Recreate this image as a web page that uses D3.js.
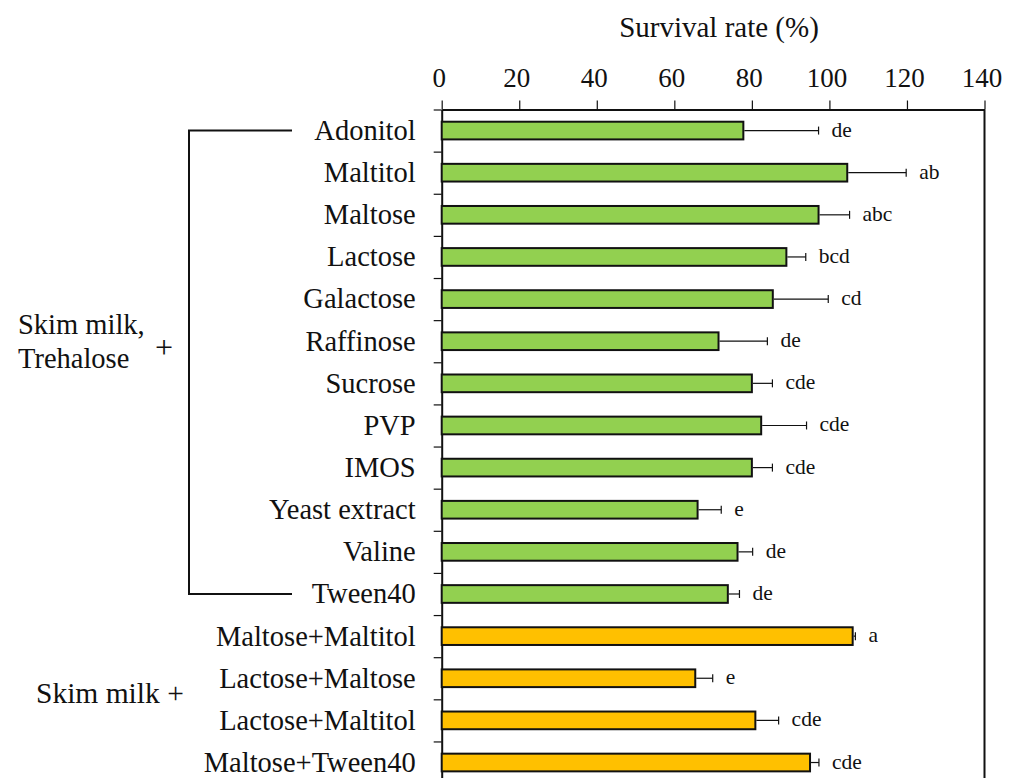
<!DOCTYPE html>
<html>
<head>
<meta charset="utf-8">
<script src="https://cdn.jsdelivr.net/npm/d3@7"></script>
<style>
  html, body { margin: 0; padding: 0; background: #fff; }
  svg { display: block; }
  text { font-family: "Liberation Serif", "Times New Roman", serif; fill: #111; }
</style>
</head>
<body>
<svg id="chart" width="1014" height="778"></svg>
<script>
// Survival rate of each protectant formulation
const categories = [
  "Adonitol", "Maltitol", "Maltose", "Lactose", "Galactose", "Raffinose",
  "Sucrose", "PVP", "IMOS", "Yeast extract", "Valine", "Tween40",
  "Maltose+Maltitol", "Lactose+Maltose", "Lactose+Maltitol", "Maltose+Tween40"
];
const survival = [77.8, 104.6, 97.2, 88.9, 85.4, 71.4, 80.0, 82.4, 80.0, 66.0, 76.3, 73.8, 106.0, 65.4, 80.9, 95.0];
const stdDev   = [19.4, 15.2, 8.0, 5.0, 14.3, 12.6, 5.3, 11.7, 5.3, 6.1, 3.9, 3.0, 0.7, 4.5, 6.0, 2.3];
const letters  = ["de", "ab", "abc", "bcd", "cd", "de", "cde", "cde", "cde", "e", "de", "de", "a", "e", "cde", "cde"];
const groupOf  = ["ST", "ST", "ST", "ST", "ST", "ST", "ST", "ST", "ST", "ST", "ST", "ST", "S", "S", "S", "S"];
const xTicks   = [0, 20, 40, 60, 80, 100, 120, 140];

const groupColor = { ST: "#92D050", S: "#FFC000" };

(function draw() {
  const svg = d3.select("#chart");
  const plotLeft = 441.7, plotRight = 984.5, plotTop = 109.5, band = 42.13;
  const plotBottom = plotTop + band * categories.length;

  const x = d3.scaleLinear().domain([0, 140]).range([plotLeft, plotRight]);
  const y = d3.scaleBand().domain(categories).range([plotTop, plotBottom]).paddingInner(0.58).paddingOuter(0.29);
  const yEdge = d3.scaleLinear().domain([0, categories.length]).range([plotTop, plotBottom]);

  // Top value axis
  const xAxis = svg.append("g")
    .attr("transform", `translate(0,${plotTop})`)
    .call(d3.axisTop(x).tickValues(xTicks).tickSize(9).tickSizeOuter(0).tickPadding(14));
  xAxis.select(".domain").attr("stroke", "#111").attr("stroke-width", 2);
  xAxis.selectAll(".tick line").attr("stroke", "#111").attr("stroke-width", 1.2);
  xAxis.selectAll(".tick text")
    .attr("font-size", 27).attr("dx", -3)
    .style("font-family", "'Liberation Serif', serif").attr("fill", "#111");

  // Right and bottom frame border
  svg.append("line")
    .attr("x1", plotRight).attr("x2", plotRight).attr("y1", plotTop).attr("y2", plotBottom)
    .attr("stroke", "#111").attr("stroke-width", 2);
  svg.append("line")
    .attr("x1", plotLeft).attr("x2", plotRight).attr("y1", plotBottom).attr("y2", plotBottom)
    .attr("stroke", "#111").attr("stroke-width", 2);

  // Left axis: ticks on band boundaries
  const edgeAxis = svg.append("g")
    .attr("transform", `translate(${plotLeft},0)`)
    .call(d3.axisLeft(yEdge).tickValues(d3.range(0, categories.length + 1)).tickSize(8).tickSizeOuter(0).tickFormat(""));
  edgeAxis.select(".domain").attr("stroke", "#111").attr("stroke-width", 2);
  edgeAxis.selectAll(".tick line").attr("stroke", "#111").attr("stroke-width", 1.2);

  // Category labels
  const catAxis = svg.append("g")
    .attr("transform", `translate(${plotLeft},0)`)
    .call(d3.axisLeft(y).tickSize(0).tickPadding(26));
  catAxis.select(".domain").remove();
  catAxis.selectAll(".tick text")
    .attr("font-size", 28.5).attr("dy", "0.33em")
    .style("font-family", "'Liberation Serif', serif").attr("fill", "#111");

  // Bars
  const rows = categories.map((c, i) => ({ c, v: survival[i], e: stdDev[i], l: letters[i], g: groupOf[i] }));
  svg.append("g").selectAll("rect").data(rows).join("rect")
    .attr("x", x(0))
    .attr("y", d => y(d.c))
    .attr("width", d => x(d.v) - x(0))
    .attr("height", y.bandwidth())
    .attr("fill", d => groupColor[d.g])
    .attr("stroke", "#111")
    .attr("stroke-width", 2);

  // Error bars (upper side)
  const yMid = c => y(c) + y.bandwidth() / 2;
  const err = svg.append("g").attr("stroke", "#111").attr("stroke-width", 1.2);
  err.selectAll("line.whisker").data(rows).join("line").attr("class", "whisker")
    .attr("x1", d => x(d.v) + 1).attr("x2", d => x(d.v + d.e))
    .attr("y1", d => yMid(d.c)).attr("y2", d => yMid(d.c));
  err.selectAll("line.cap").data(rows).join("line").attr("class", "cap")
    .attr("x1", d => x(d.v + d.e)).attr("x2", d => x(d.v + d.e))
    .attr("y1", d => yMid(d.c) - 4).attr("y2", d => yMid(d.c) + 4);

  // Significance letters
  svg.append("g").selectAll("text").data(rows).join("text")
    .attr("x", d => x(d.v + d.e) + 13)
    .attr("y", d => yMid(d.c) + 6)
    .attr("font-size", 21.5)
    .text(d => d.l);

  // Title
  svg.append("text")
    .attr("x", 719).attr("y", 37)
    .attr("text-anchor", "middle").attr("font-size", 29)
    .text("Survival rate (%)");

  // Group bracket for the skim milk + trehalose formulations
  const bx = 189, bEnd = 292;
  svg.append("path")
    .attr("d", `M${bEnd},${yMid(categories[0])} H${bx} V${yMid(categories[11])} H${bEnd}`)
    .attr("fill", "none").attr("stroke", "#111").attr("stroke-width", 2);

  const g1 = svg.append("text").attr("font-size", 28.5);
  g1.append("tspan").attr("x", 18).attr("y", 334).text("Skim milk,");
  g1.append("tspan").attr("x", 18).attr("y", 368).text("Trehalose");
  svg.append("text").attr("x", 164).attr("y", 358).attr("text-anchor", "middle")
    .attr("font-size", 32).text("+");

  svg.append("text").attr("x", 36).attr("y", 703).attr("font-size", 29.5).text("Skim milk +");
})();
</script>
</body>
</html>
